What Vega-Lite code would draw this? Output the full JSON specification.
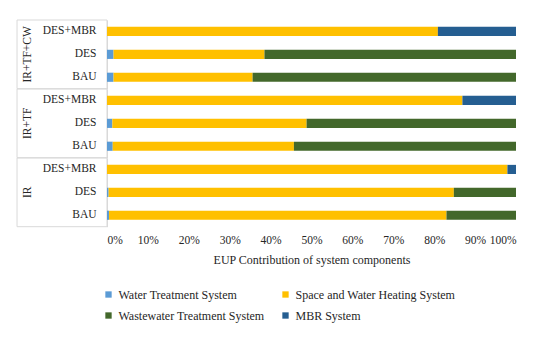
{
  "$schema": "https://vega.github.io/schema/vega-lite/v6.json",
  "padding": {"left": 16, "top": 19, "right": 30, "bottom": 5},
  "bounds": "flush",
  "data": {"values": [
    {"group": "IR+TF+CW", "scenario": "DES+MBR", "component": "Water Treatment System", "value": 0.0},
    {"group": "IR+TF+CW", "scenario": "DES+MBR", "component": "Space and Water Heating System", "value": 80.9},
    {"group": "IR+TF+CW", "scenario": "DES+MBR", "component": "Wastewater Treatment System", "value": 0.0},
    {"group": "IR+TF+CW", "scenario": "DES+MBR", "component": "MBR System", "value": 19.1},
    {"group": "IR+TF+CW", "scenario": "DES", "component": "Water Treatment System", "value": 1.6},
    {"group": "IR+TF+CW", "scenario": "DES", "component": "Space and Water Heating System", "value": 36.9},
    {"group": "IR+TF+CW", "scenario": "DES", "component": "Wastewater Treatment System", "value": 61.5},
    {"group": "IR+TF+CW", "scenario": "DES", "component": "MBR System", "value": 0.0},
    {"group": "IR+TF+CW", "scenario": "BAU", "component": "Water Treatment System", "value": 1.6},
    {"group": "IR+TF+CW", "scenario": "BAU", "component": "Space and Water Heating System", "value": 34.0},
    {"group": "IR+TF+CW", "scenario": "BAU", "component": "Wastewater Treatment System", "value": 64.4},
    {"group": "IR+TF+CW", "scenario": "BAU", "component": "MBR System", "value": 0.0},
    {"group": "IR+TF", "scenario": "DES+MBR", "component": "Water Treatment System", "value": 0.0},
    {"group": "IR+TF", "scenario": "DES+MBR", "component": "Space and Water Heating System", "value": 86.9},
    {"group": "IR+TF", "scenario": "DES+MBR", "component": "Wastewater Treatment System", "value": 0.0},
    {"group": "IR+TF", "scenario": "DES+MBR", "component": "MBR System", "value": 13.1},
    {"group": "IR+TF", "scenario": "DES", "component": "Water Treatment System", "value": 1.3},
    {"group": "IR+TF", "scenario": "DES", "component": "Space and Water Heating System", "value": 47.5},
    {"group": "IR+TF", "scenario": "DES", "component": "Wastewater Treatment System", "value": 51.2},
    {"group": "IR+TF", "scenario": "DES", "component": "MBR System", "value": 0.0},
    {"group": "IR+TF", "scenario": "BAU", "component": "Water Treatment System", "value": 1.4},
    {"group": "IR+TF", "scenario": "BAU", "component": "Space and Water Heating System", "value": 44.3},
    {"group": "IR+TF", "scenario": "BAU", "component": "Wastewater Treatment System", "value": 54.3},
    {"group": "IR+TF", "scenario": "BAU", "component": "MBR System", "value": 0.0},
    {"group": "IR", "scenario": "DES+MBR", "component": "Water Treatment System", "value": 0.0},
    {"group": "IR", "scenario": "DES+MBR", "component": "Space and Water Heating System", "value": 97.9},
    {"group": "IR", "scenario": "DES+MBR", "component": "Wastewater Treatment System", "value": 0.0},
    {"group": "IR", "scenario": "DES+MBR", "component": "MBR System", "value": 2.1},
    {"group": "IR", "scenario": "DES", "component": "Water Treatment System", "value": 0.4},
    {"group": "IR", "scenario": "DES", "component": "Space and Water Heating System", "value": 84.4},
    {"group": "IR", "scenario": "DES", "component": "Wastewater Treatment System", "value": 15.2},
    {"group": "IR", "scenario": "DES", "component": "MBR System", "value": 0.0},
    {"group": "IR", "scenario": "BAU", "component": "Water Treatment System", "value": 0.5},
    {"group": "IR", "scenario": "BAU", "component": "Space and Water Heating System", "value": 82.5},
    {"group": "IR", "scenario": "BAU", "component": "Wastewater Treatment System", "value": 17.0},
    {"group": "IR", "scenario": "BAU", "component": "MBR System", "value": 0.0}
  ]},
  "transform": [
    {"calculate": "indexof(['Water Treatment System', 'Space and Water Heating System', 'Wastewater Treatment System', 'MBR System'], datum.component)", "as": "stackOrder"}
  ],
  "facet": {
    "row": {
      "field": "group",
      "type": "nominal",
      "sort": ["IR+TF+CW", "IR+TF", "IR"],
      "header": {"title": null, "labelAngle": -90, "labelOrient": "left", "labelFont": "Liberation Serif", "labelFontSize": 11.5, "labelColor": "#262626", "labelPadding": 3}
    }
  },
  "spacing": 0,
  "spec": {
    "width": 409,
    "height": 68.7,
    "layer": [
      {
        "transform": [{"filter": "datum.scenario == 'DES+MBR' && datum.component == 'MBR System'"}],
        "mark": {"type": "rect", "fillOpacity": 0, "stroke": "#D9D9D9", "strokeWidth": 1},
        "encoding": {
          "x": {"datum": -0.22},
          "x2": {"datum": 0}
        }
      },
      {
        "mark": {"type": "bar", "height": {"band": 0.4}},
        "encoding": {
          "y": {
            "field": "scenario", "type": "nominal",
            "sort": ["DES+MBR", "DES", "BAU"],
            "scale": {"paddingInner": 0, "paddingOuter": 0},
            "axis": {"title": null, "ticks": false, "domainColor": "#D9D9D9", "labelPadding": 11, "labelFont": "Liberation Serif", "labelFontSize": 11.5, "labelColor": "#262626"}
          },
          "x": {
            "field": "value", "type": "quantitative", "stack": "normalize",
            "scale": {"domain": [0, 1]},
            "axis": {"title": "EUP Contribution of system components", "format": "%", "values": [0, 0.1, 0.2, 0.3, 0.4, 0.5, 0.6, 0.7, 0.8, 0.9, 1], "domain": false, "ticks": false, "gridColor": "#D9D9D9", "labelPadding": 7, "labelFont": "Liberation Serif", "labelFontSize": 11.5, "labelColor": "#262626", "titleFont": "Liberation Serif", "titleFontSize": 12, "titleFontWeight": "normal", "titleColor": "#262626", "titlePadding": 8.5}
          },
          "order": {"field": "stackOrder", "type": "quantitative"},
          "color": {
            "field": "component", "type": "nominal",
            "scale": {"domain": ["Water Treatment System", "Space and Water Heating System", "Wastewater Treatment System", "MBR System"], "range": ["#5B9BD5", "#FFC000", "#43682B", "#255E91"]},
            "legend": {"title": null, "orient": "none", "legendX": -4.5, "legendY": 268.5, "direction": "horizontal", "columns": 2, "symbolType": "square", "symbolSize": 40, "labelFont": "Liberation Serif", "labelFontSize": 12, "labelColor": "#262626", "labelLimit": 300, "columnPadding": 15, "rowPadding": 9}
          }
        }
      }
    ]
  },
  "config": {
    "view": {"stroke": null},
    "background": "white"
  }
}
